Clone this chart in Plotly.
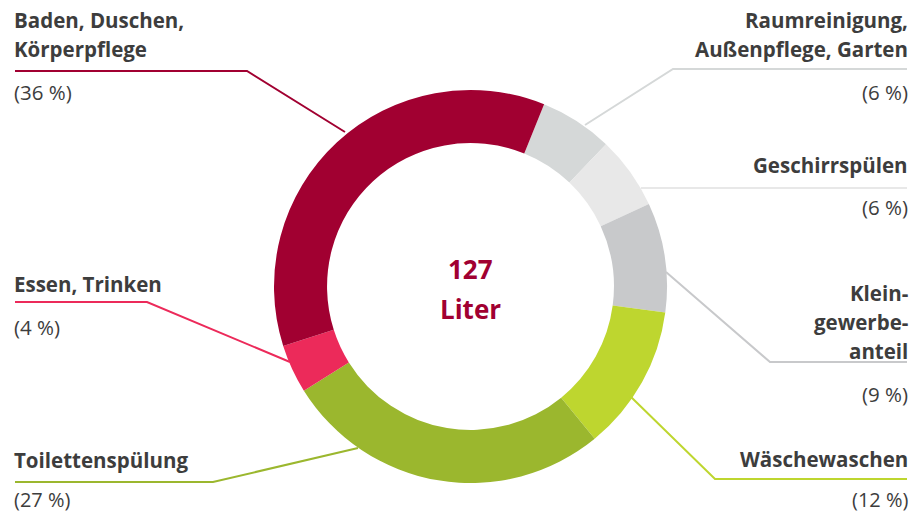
import plotly.graph_objects as go

# ---- data ----
categories = ["Raumreinigung, Außenpflege, Garten", "Geschirrspülen", "Kleingewerbeanteil",
              "Wäschewaschen", "Toilettenspülung", "Essen, Trinken", "Baden, Duschen, Körperpflege"]
shares = [6, 6, 9, 12, 27, 4, 36]
colors = ["#D5D8D8", "#E8E8E8", "#C8C9CB", "#BED62F", "#9BB72E", "#EC2A5A", "#A10031"]
total_liters = 127

W, H = 911, 513
TXT = "#3D3D3D"
FONT = "Open Sans"


def px(x):
    return x / W


def py(y):
    return 1 - y / H


cx, cy, R = 470.5, 286.5, 196.5

fig = go.Figure(go.Pie(
    labels=categories, values=shares, sort=False, direction="clockwise", rotation=22,
    hole=0.73, marker=dict(colors=colors, line=dict(width=0)),
    textinfo="none", hoverinfo="label+percent", showlegend=False,
    domain=dict(x=[px(cx - R), px(cx + R)], y=[py(cy + R), py(cy - R)]),
))

shapes = []


def leader(points, color):
    path = "M " + " L ".join(f"{px(x)},{py(y)}" for x, y in points)
    shapes.append(dict(type="path", xref="paper", yref="paper", path=path,
                       line=dict(color=color, width=2)))


leader([(15, 71), (247, 71), (345, 132)], colors[6])
leader([(907, 69), (673, 69), (585, 125)], colors[0])
leader([(907, 188), (641, 188)], colors[1])
leader([(907, 362), (770, 362), (666, 272)], colors[2])
leader([(907, 479), (715, 479), (630, 396)], colors[3])
leader([(15, 482), (213, 482), (358, 448)], colors[4])
leader([(15, 302), (147, 302), (290, 362)], colors[5])

annotations = []


def label(text, x, y, anchor, bold=True, size=20.5, color=TXT):
    annotations.append(dict(
        text=f"<b>{text}</b>" if bold else text, x=px(x), y=py(y), xref="paper", yref="paper",
        xanchor=anchor, yanchor="middle", showarrow=False, borderpad=0,
        font=dict(family=FONT, size=size, color=color, weight=600 if bold else 400)))


pct = [f"({v} %)" for v in shares]

# left side
label("Baden, Duschen,", 13, 20, "left")
label("Körperpflege", 13, 49, "left")
label(pct[6], 13, 92, "left", bold=False)
label("Essen, Trinken", 13, 284, "left")
label(pct[5], 13, 327, "left", bold=False)
label("Toilettenspülung", 13, 460, "left")
label(pct[4], 13, 499, "left", bold=False, size=20)

# right side
label("Raumreinigung,", 909, 20, "right")
label("Außenpflege, Garten", 909, 49, "right")
label(pct[0], 909, 92, "right", bold=False)
label("Geschirrspülen", 909, 165, "right")
label(pct[1], 909, 207, "right", bold=False)
label("Klein-", 909, 293, "right")
label("gewerbe-", 909, 322, "right")
label("anteil", 909, 351, "right")
label(pct[2], 909, 394, "right", bold=False)
label("Wäschewaschen", 909, 459, "right")
label(pct[3], 909, 499, "right", bold=False, size=20)

# center
label(str(total_liters), cx, 269, "center", size=26, color=colors[6])
label("Liter", cx, 309, "center", size=26, color=colors[6])

fig.update_layout(
    width=W, height=H, margin=dict(l=0, r=0, t=0, b=0),
    paper_bgcolor="white", plot_bgcolor="white",
    shapes=shapes, annotations=annotations,
)

fig.write_html("out.html", config={"displayModeBar": False},
               post_script="document.body.style.margin='0';document.body.style.overflow='hidden';")
